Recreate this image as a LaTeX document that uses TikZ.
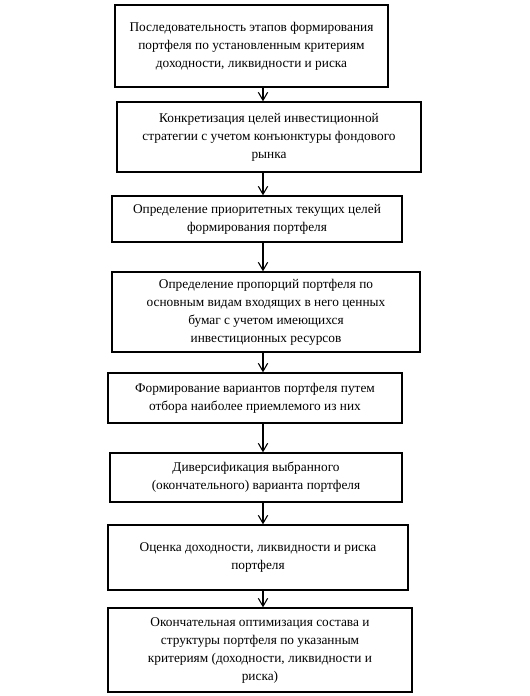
\documentclass[tikz,border=0pt]{standalone}
\usepackage{fontspec}
\setmainfont{Liberation Serif}
\usetikzlibrary{positioning, arrows.meta, calc}

\begin{document}
\begin{tikzpicture}[x=0.75pt, y=-0.75pt, every node/.style={font=\fontsize{10}{13.5}\selectfont}]
  \tikzset{
    stage/.style={draw=black, line width=1pt, align=flush center, inner sep=1pt},
    flow/.style={black, line width=0.8pt, -{Straight Barb[length=6pt, width=7pt]}},
  }
  \useasboundingbox (0,0) rectangle (530,696);
  %% boxes: \stagebox{name}{left}{right}{top}{bottom}{text}
  \newcommand\stagebox[6]{%
    \node[stage, minimum width={(#3-#2)*0.75pt}, minimum height={(#5-#4)*0.75pt}, text width={(#3-#2-6)*0.75pt}]
      (#1) at ({(#2+#3)/2},{(#4+#5)/2}) {#6};}
  \stagebox{seq}{115}{388}{5}{87}{Последовательность этапов формирования\\ портфеля по установленным критериям\\ доходности, ликвидности и риска}
  \stagebox{goals}{117}{421}{102}{172}{Конкретизация целей инвестиционной\\ стратегии с учетом конъюнктуры фондового\\ рынка}
  \stagebox{prio}{112}{402}{196}{242}{Определение приоритетных текущих целей\\ формирования портфеля}
  \stagebox{prop}{112}{420}{272}{352}{Определение пропорций портфеля по\\ основным видам входящих в него ценных\\ бумаг с учетом имеющихся\\ инвестиционных ресурсов}
  \stagebox{vars}{108}{402}{373}{423}{Формирование вариантов портфеля путем\\ отбора наиболее приемлемого из них}
  \stagebox{divers}{110}{402}{453}{502}{Диверсификация выбранного\\ (окончательного) варианта портфеля}
  \stagebox{eval}{108}{408}{525}{590}{Оценка доходности, ликвидности и риска\\ портфеля\\[13.5pt]}
  \stagebox{optim}{108}{412}{608}{692}{Окончательная оптимизация состава и\\ структуры портфеля по указанным\\ критериям (доходности, ликвидности и\\ риска)}
  %% arrows run down one common vertical
  \coordinate (axis) at (263,0);
  \foreach \from/\to in {seq/goals, goals/prio, prio/prop, prop/vars, vars/divers, divers/eval, eval/optim}
    \draw[flow] (\from.south -| axis) -- (\to.north -| axis);
\end{tikzpicture}
\end{document}
